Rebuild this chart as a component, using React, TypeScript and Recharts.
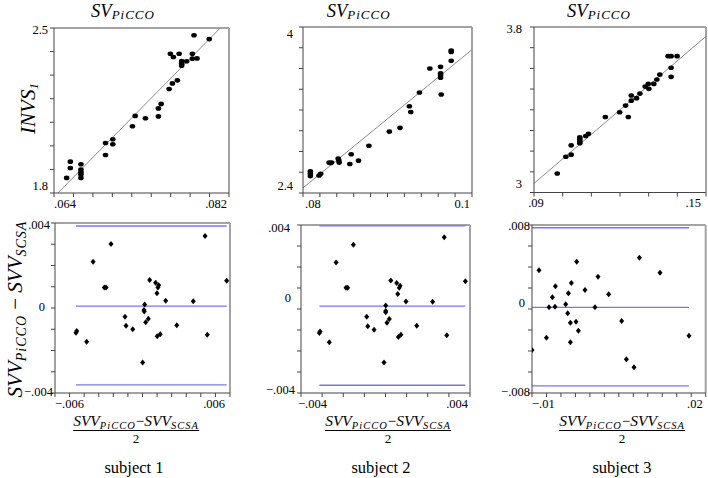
import React from 'react';
import { ScatterChart, Scatter, XAxis, YAxis, ReferenceLine } from 'recharts';

// Three subjects: SV scatter vs PiCCO (top) and Bland-Altman of SVV (bottom).
const SERIF = "'Liberation Serif', 'DejaVu Serif', serif";
const BLUE = '#7676f4';
const FRAME = '#a3a3a3';
const AXIS = '#444';

// ---- subject 1
const S1_SV_X = [.0653, .06568, .06568, .06677, .06677, .06677, .06677, .06677, .0693, .0693, .07005, .07005, .07207, .07235, .07341, .07474, .07474, .07502, .07584, .07618, .07669, .07597, .07628, .07687, .07713, .07713, .07713, .07765, .07823, .07823, .07871, .0784, .07997];
const S1_SV_Y = [1.864, 1.933, 1.906, 1.922, 1.899, 1.888, 1.878, 1.864, 2.012, 1.961, 2.028, 2.007, 2.083, 2.127, 2.117, 2.159, 2.125, 2.178, 2.241, 2.265, 2.278, 2.391, 2.377, 2.391, 2.36, 2.349, 2.34, 2.359, 2.391, 2.37, 2.371, 2.469, 2.453];
const S1_FIT = [[.0644, 1.8], [.0811, 2.5]];
const S1_BA_X = [-.00456, -.00451, -.00383, -.00339, -.00262, -.0025, -.00216, -.0012, -.00113, -.00067, .00001, .0001, .00012, .00015, .00022, .0004, .00049, .0009, .00099, .00106, .00111, .00101, .00122, .00159, .00235, .00348, .00429, .00444, .00577];
const S1_BA_Y = [-.00116, -.00108, -.00159, .00218, .00097, .00097, .00301, -.00041, -.00083, -.001, -.00256, -.00009, -.00017, .00016, -.00067, -.0005, .00132, .00119, .00069, .00096, .00107, -.00133, -.00124, .00034, -.00081, .00032, .00339, -.00126, .00128];
const S1_LIMITS = [.00386, .00009, -.00362];

// ---- subject 2
const S2_SV_X = [.08087, .08087, .08087, .0819, .0821, .08309, .08325, .08337, .08416, .08424, .08428, .08554, .0857, .08657, .0878, .09022, .09148, .09259, .09275, .09378, .09501, .09628, .09628, .09628, .09628, .09636, .09754, .09754, .09754];
const S2_SV_Y = [2.608, 2.585, 2.563, 2.569, 2.585, 2.693, 2.689, 2.693, 2.732, 2.715, 2.693, 2.68, 2.774, 2.712, 2.855, 2.992, 3.028, 3.236, 3.18, 3.369, 3.6, 3.616, 3.554, 3.538, 3.512, 3.35, 3.772, 3.759, 3.675];
const S2_FIT = [[.08, 2.449], [.1, 3.782]];
const S2_BA_X = [-.00313, -.0031, -.00266, -.00234, -.00187, -.00179, -.00152, -.00089, -.00084, -.00054, -.00007, .00001, .00001, .00001, .00007, .00018, .00025, .00053, .00058, .00065, .00069, .00061, .00073, .00097, .00148, .00223, .00278, .0029, .00378];
const S2_BA_Y = [-.00114, -.00107, -.00158, .00222, .00101, .00101, .00306, -.00037, -.00082, -.00099, -.00255, -.0001, -.00016, .00017, -.00066, -.00048, .00136, .00124, .00071, .00101, .00111, -.00133, -.00123, .00036, -.0008, .00034, .00342, -.00125, .00132];
const S2_LIMITS = [.00396, .00014, -.00363];

// ---- subject 3
const S3_SV_X = [.09811, .10112, .10297, .10297, .10598, .10598, .10598, .10598, .10806, .10899, .1149, .11988, .12196, .12289, .12393, .12393, .12578, .12694, .12879, .12984, .13007, .1318, .13285, .13389, .13678, .13783, .13991, .13783, .13783];
const S3_SV_Y = [3.092, 3.173, 3.228, 3.183, 3.267, 3.257, 3.247, 3.238, 3.273, 3.284, 3.365, 3.388, 3.42, 3.365, 3.469, 3.444, 3.456, 3.478, 3.512, 3.525, 3.501, 3.525, 3.546, 3.57, 3.659, 3.659, 3.659, 3.603, 3.559];
const S3_FIT = [[.09, 3.044], [.15, 3.755]];
const S3_BA_X = [-.01, -.00879, -.00751, -.00706, -.00648, -.00603, -.00596, -.00418, -.00383, -.00371, -.00337, -.00337, -.0032, -.0024, -.00228, -.00199, -.00085, .00088, .0014, .00325, .00549, .0063, .00762, .00855, .01211, .01711];
const S3_BA_Y = [-.0039, .00369, -.00273, .00016, .00111, .00022, .00216, .00045, -.00041, .0015, -.0013, -.00317, .00248, -.00121, .0045, -.00207, .00181, .00016, .00308, .0014, -.00114, -.00479, -.00555, .00489, .00346, -.00254];
const S3_LIMITS = [.00774, .00016, -.00733];

// ---- axis ticks (minor marks) and labelled ticks
const S1_SV_XTICKS = [.064, .066, .068, .07, .072, .074, .076, .078, .08, .082];
const S1_SV_YTICKS = [1.8, 1.9, 2.0, 2.1, 2.2, 2.3, 2.4, 2.5];
const S2_SV_XTICKS = [.08, .082, .084, .086, .088, .09, .092, .094, .096, .098, .1];
const S2_SV_YTICKS = [2.4, 2.6, 2.8, 3.0, 3.2, 3.4, 3.6, 3.8, 4.0];
const S3_SV_XTICKS = [.09, .1, .11, .12, .13, .14, .15];
const S3_SV_YTICKS = [3, 3.1, 3.2, 3.3, 3.4, 3.5, 3.6, 3.7, 3.8];
const S1_BA_XTICKS = [-.006, -.005, -.004, -.003, -.002, -.001, 0, .001, .002, .003, .004, .005, .006];
const S2_BA_XTICKS = [-.004, -.003, -.002, -.001, 0, .001, .002, .003, .004];
const S3_BA_XTICKS = [-.01, -.0075, -.005, -.0025, 0, .0025, .005, .0075, .01, .0125, .015, .0175, .02];
const S12_BA_YTICKS = [-.004, -.003, -.002, -.001, 0, .001, .002, .003, .004];
const S3_BA_YTICKS = [-.008, -.006, -.004, -.002, 0, .002, .004, .006, .008];

const S1_SV_XLAB: [number, string][] = [[.064, '.064'], [.082, '.082']];
const S1_SV_YLAB: [number, string][] = [[1.8, '1.8'], [2.5, '2.5']];
const S2_SV_XLAB: [number, string][] = [[.08, '.08'], [.1, '0.1']];
const S2_SV_YLAB: [number, string][] = [[2.4, '2.4'], [4, '4']];
const S3_SV_XLAB: [number, string][] = [[.09, '.09'], [.15, '.15']];
const S3_SV_YLAB: [number, string][] = [[3, '3'], [3.8, '3.8']];
const S1_BA_XLAB: [number, string][] = [[-.006, '−.006'], [.006, '.006']];
const S2_BA_XLAB: [number, string][] = [[-.004, '−.004'], [.004, '.004']];
const S3_BA_XLAB: [number, string][] = [[-.01, '−.01'], [.02, '.02']];
const S12_BA_YLAB: [number, string][] = [[.004, '.004'], [0, '0'], [-.004, '−.004']];
const S3_BA_YLAB: [number, string][] = [[.008, '.008'], [0, '0'], [-.008, '−.008']];

const SUBJECTS = ['subject 1', 'subject 2', 'subject 3'];

type Off = { dx?: number; dy?: number; anchor?: 'start' | 'middle' | 'end' };

const zip = (xs: number[], ys: number[]) => xs.map((x, i) => ({ x, y: ys[i] }));

const dot = (p: any) => <ellipse cx={p.cx} cy={p.cy} rx={2.8} ry={2.3} fill="#000" />;
const diamond = (p: any) => (
  <path d={`M${p.cx},${p.cy - 3}L${p.cx + 2.5},${p.cy}L${p.cx},${p.cy + 3}L${p.cx - 2.5},${p.cy}Z`} fill="#000" />
);

const tickText = (labels: [number, string][], offs: Off[], vertical: boolean) => (p: any) => {
  const i = labels.findIndex((l) => Math.abs(l[0] - p.payload.value) < 1e-9);
  if (i < 0) return <g />;
  const o = offs[i] || {};
  return (
    <text
      x={p.x + (o.dx ?? 0)}
      y={p.y + (o.dy ?? 0)}
      dy={vertical ? '0.35em' : '0.71em'}
      textAnchor={o.anchor ?? (vertical ? 'end' : 'middle')}
      style={{ fontFamily: SERIF, fontSize: 12.5 }}
      fill="#000"
    >
      {labels[i][1]}
    </text>
  );
};

interface PanelProps {
  left: number; top: number; w: number; h: number;
  xDomain: [number, number]; yDomain: [number, number];
  xTicks: number[]; yTicks: number[];
  xLab: [number, string][]; yLab: [number, string][];
  xOff: Off[]; yOff: Off[];
  points: { x: number; y: number }[];
  kind: 'sv' | 'ba';
  fit?: number[][];
  limits?: number[];
}

function Panel(p: PanelProps) {
  const ML = 50, MT = 8, MR = 8, XH = 26;
  const xs = p.points.map((d) => d.x);
  const x0 = Math.min(...xs), x1 = Math.max(...xs);
  return (
    <div style={{ position: 'absolute', left: p.left - ML, top: p.top - MT }}>
      <ScatterChart width={ML + p.w + MR} height={MT + p.h + XH} margin={{ top: MT, right: MR, bottom: 0, left: 0 }}>
        <XAxis type="number" dataKey="x" domain={p.xDomain} ticks={p.xTicks} interval={0} allowDataOverflow
          height={XH} tickSize={4} tickMargin={2} stroke={AXIS} tick={tickText(p.xLab, p.xOff, false)} />
        <YAxis type="number" dataKey="y" domain={p.yDomain} ticks={p.yTicks} interval={0} allowDataOverflow
          width={ML} tickSize={4} tickMargin={2} stroke={AXIS} tick={tickText(p.yLab, p.yOff, true)} />
        <ReferenceLine y={p.yDomain[1]} stroke={FRAME} strokeWidth={2} ifOverflow="visible" />
        <ReferenceLine x={p.xDomain[1]} stroke={FRAME} strokeWidth={2} ifOverflow="visible" />
        {p.fit && (
          <ReferenceLine segment={[{ x: p.fit[0][0], y: p.fit[0][1] }, { x: p.fit[1][0], y: p.fit[1][1] }]}
            stroke="#8a8a8a" strokeWidth={1} ifOverflow="visible" />
        )}
        {p.limits && p.limits.map((v, i) => (
          <ReferenceLine key={i} segment={[{ x: x0, y: v }, { x: x1, y: v }]} stroke={BLUE} strokeWidth={1.3} ifOverflow="visible" />
        ))}
        <Scatter data={p.points} shape={p.kind === 'sv' ? dot : diamond} isAnimationActive={false} />
      </ScatterChart>
    </div>
  );
}

function Sub({ main, sub, size, subSize, drop }: { main: string; sub: string; size: number; subSize: number; drop: number }) {
  return (
    <span style={{ fontStyle: 'italic', fontSize: size }}>
      {main}
      <span style={{ fontSize: subSize, position: 'relative', top: drop, letterSpacing: 1 }}>{sub}</span>
    </span>
  );
}

const abs = (x: number, y: number, extra: React.CSSProperties = {}): React.CSSProperties => ({
  position: 'absolute', left: x, top: y, transform: 'translate(-50%, -50%)', whiteSpace: 'nowrap', lineHeight: 1, ...extra,
});

function Fraction({ cx, cy }: { cx: number; cy: number }) {
  return (
    <div style={abs(cx, cy, { textAlign: 'center' })}>
      <div style={{ borderBottom: '1px solid #000', paddingBottom: 1 }}>
        <Sub main="SVV" sub="PiCCO" size={15.5} subSize={10.5} drop={3} />
        <span style={{ fontSize: 15 }}>−</span>
        <Sub main="SVV" sub="SCSA" size={15.5} subSize={10.5} drop={3} />
      </div>
      <div style={{ fontSize: 13, marginTop: 1 }}>2</div>
    </div>
  );
}

export default function App() {
  const sv = { kind: 'sv' as const };
  const ba = { kind: 'ba' as const };
  return (
    <div style={{ position: 'absolute', left: 0, top: 0, width: 708, height: 478, background: '#fff', overflow: 'hidden', fontFamily: SERIF, color: '#000' }}>
      <Panel {...sv} left={53.5} top={27.5} w={175} h={165} xDomain={[.064, .082]} yDomain={[1.8, 2.5]}
        xTicks={S1_SV_XTICKS} yTicks={S1_SV_YTICKS} xLab={S1_SV_XLAB} yLab={S1_SV_YLAB}
        xOff={[{ anchor: 'start' }, { anchor: 'end', dx: -2 }]} yOff={[{ dy: -7.5 }, { dy: 1.5 }]}
        points={zip(S1_SV_X, S1_SV_Y)} fit={S1_FIT} />
      <Panel {...sv} left={303} top={26.5} w={169} h={166} xDomain={[.08, .1]} yDomain={[2.4, 4]}
        xTicks={S2_SV_XTICKS} yTicks={S2_SV_YTICKS} xLab={S2_SV_XLAB} yLab={S2_SV_YLAB}
        xOff={[{ anchor: 'start', dx: 2 }, { anchor: 'end', dx: -2 }]} yOff={[{ dy: -7, dx: -4 }, { dy: 7, dx: -4 }]}
        points={zip(S2_SV_X, S2_SV_Y)} fit={S2_FIT} />
      <Panel {...sv} left={534} top={26.7} w={172} h={165.5} xDomain={[.09, .15]} yDomain={[3, 3.8]}
        xTicks={S3_SV_XTICKS} yTicks={S3_SV_YTICKS} xLab={S3_SV_XLAB} yLab={S3_SV_YLAB}
        xOff={[{ anchor: 'middle', dx: 2 }, { anchor: 'end', dx: -5 }]} yOff={[{ dy: -9, dx: -6 }, { dy: 1.5, dx: -6 }]}
        points={zip(S3_SV_X, S3_SV_Y)} fit={S3_FIT} />

      <Panel {...ba} left={55} top={223} w={175} h={170} xDomain={[-.006, .006]} yDomain={[-.004, .004]}
        xTicks={S1_BA_XTICKS} yTicks={S12_BA_YTICKS} xLab={S1_BA_XLAB} yLab={S12_BA_YLAB}
        xOff={[{ anchor: 'start' }, { anchor: 'end', dx: -5 }]}
        yOff={[{ dy: 2, dx: 1 }, { dy: -1, dx: -4 }, { dy: -1, dx: 4 }]}
        points={zip(S1_BA_X, S1_BA_Y)} limits={S1_LIMITS} />
      <Panel {...ba} left={301} top={225} w={169} h={168} xDomain={[-.004, .004]} yDomain={[-.004, .004]}
        xTicks={S2_BA_XTICKS} yTicks={S12_BA_YTICKS} xLab={S2_BA_XLAB} yLab={S12_BA_YLAB}
        xOff={[{ anchor: 'start', dx: -3 }, { anchor: 'end', dx: -2 }]}
        yOff={[{ dy: 3, dx: -5 }, { dy: -11.5, dx: -4 }, { dy: -3, dx: 0 }]}
        points={zip(S2_BA_X, S2_BA_Y)} limits={S2_LIMITS} />
      <Panel {...ba} left={532.3} top={225} w={173.7} h={168} xDomain={[-.01, .02]} yDomain={[-.008, .008]}
        xTicks={S3_BA_XTICKS} yTicks={S3_BA_YTICKS} xLab={S3_BA_XLAB} yLab={S3_BA_YLAB}
        xOff={[{ anchor: 'start' }, { anchor: 'end', dx: -3 }]}
        yOff={[{ dy: 1, dx: 4 }, { dy: -6.5, dx: -1 }, { dy: -1, dx: 4 }]}
        points={zip(S3_BA_X, S3_BA_Y)} limits={S3_LIMITS} />

      {[123, 358.7, 599].map((cx, i) => (
        <div key={i} style={abs(cx, 11)}>
          <Sub main="SV" sub="PiCCO" size={18.5} subSize={13} drop={2} />
        </div>
      ))}

      <div style={abs(28, 108, { transform: 'translate(-50%, -50%) rotate(-90deg)' })}>
        <Sub main="INVS" sub="1" size={21} subSize={13} drop={3} />
      </div>
      <div style={abs(15, 309, { transform: 'translate(-50%, -50%) rotate(-90deg)' })}>
        <Sub main="SVV" sub="PiCCO" size={21} subSize={14} drop={4} />
        <span style={{ fontSize: 21 }}> − </span>
        <Sub main="SVV" sub="SCSA" size={21} subSize={14} drop={4} />
      </div>

      {[136, 388, 622].map((cx, i) => <Fraction key={i} cx={cx} cy={429} />)}

      {SUBJECTS.map((s, i) => (
        <div key={s} style={abs([134, 381, 622][i], 468, { fontSize: 16.5 })}>{s}</div>
      ))}
    </div>
  );
}
